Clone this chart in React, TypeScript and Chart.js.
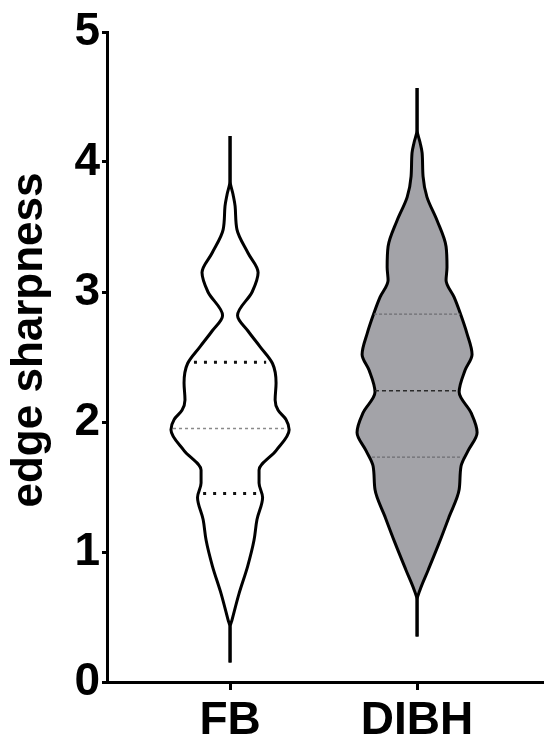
import React, { useEffect, useRef } from 'react';
import { Chart, registerables } from 'chart.js';

Chart.register(...registerables);

// ---- data ----
const categories = ['FB', 'DIBH'];
const yTickValues = [0, 1, 2, 3, 4, 5];
const yAxisTitle = 'edge sharpness';

// violin outline: value levels and half widths (in category units)
const fbLevels = [0.15, 0.42, 0.48, 0.68, 0.89, 1.09, 1.25, 1.42, 1.53, 1.63, 1.78, 1.94, 2.02, 2.09, 2.17, 2.3, 2.45, 2.58, 2.7, 2.82, 3.0, 3.15, 3.3, 3.48, 3.66, 3.75, 3.86, 4.2];
const fbHalfWidths = [0, 0, 0.011, 0.048, 0.094, 0.128, 0.144, 0.174, 0.155, 0.155, 0.246, 0.316, 0.299, 0.257, 0.241, 0.246, 0.227, 0.16, 0.096, 0.04, 0.118, 0.15, 0.096, 0.037, 0.027, 0.016, 0, 0];

const dibhLevels = [0.35, 0.63, 0.71, 0.86, 1.07, 1.27, 1.48, 1.66, 1.78, 1.92, 2.07, 2.23, 2.4, 2.52, 2.68, 2.84, 2.96, 3.09, 3.19, 3.35, 3.55, 3.73, 3.89, 4.07, 4.15, 4.25, 4.57];
const dibhHalfWidths = [0, 0, 0.016, 0.059, 0.118, 0.171, 0.225, 0.235, 0.273, 0.321, 0.289, 0.225, 0.257, 0.294, 0.267, 0.23, 0.198, 0.155, 0.16, 0.155, 0.107, 0.053, 0.032, 0.027, 0.016, 0, 0];

// quartiles: Q1, median, Q3
const fbQuartiles = [1.45, 1.95, 2.46];
const fbQuartileHalfWidths = [0.144, 0.305, 0.193];
const dibhQuartiles = [1.73, 2.24, 2.83];
const dibhQuartileHalfWidths = [0.241, 0.225, 0.23];

const FONT = "'Liberation Sans', Arial, Helvetica, sans-serif";

function side(center: number, levels: number[], hws: number[], sign: number) {
  return levels.map((y, i) => ({ x: center + sign * hws[i], y }));
}

// y-axis title drawn beside the y scale (slightly above the axis centre, as in the reference)
const yTitlePlugin = {
  id: 'yTitle',
  afterDraw(chart: any) {
    const { ctx } = chart;
    const ys = chart.scales.y;
    const cx = ys.left + 30;
    const cy = (ys.top + ys.bottom) / 2 - 17;
    ctx.save();
    ctx.translate(cx, cy);
    ctx.rotate(-Math.PI / 2);
    ctx.fillStyle = '#000';
    ctx.font = `bold 44px ${FONT}`;
    ctx.textAlign = 'center';
    ctx.textBaseline = 'middle';
    ctx.fillText(yAxisTitle, 0, 0);
    ctx.restore();
  },
};

export default function App() {
  const ref = useRef<HTMLCanvasElement>(null);

  useEffect(() => {
    const canvas = ref.current;
    if (!canvas) return;
    const datasets: any[] = [];

    const addViolin = (center: number, levels: number[], hws: number[], fillColor: string | null) => {
      const common = {
        borderColor: '#000',
        borderWidth: 3,
        pointRadius: 0,
        cubicInterpolationMode: 'monotone',
        order: 2,
      };
      datasets.push({ ...common, data: side(center, levels, hws, -1), fill: false });
      datasets.push({
        ...common,
        data: side(center, levels, hws, 1),
        fill: fillColor ? '-1' : false,
        backgroundColor: fillColor || 'transparent',
      });
    };

    const addQuartiles = (
      center: number,
      qs: number[],
      hws: number[],
      styles: { color: string; width: number; dash: number[] }[]
    ) => {
      qs.forEach((q, i) => {
        datasets.push({
          data: [
            { x: center - hws[i], y: q },
            { x: center + hws[i], y: q },
          ],
          borderColor: styles[i].color,
          borderWidth: styles[i].width,
          borderDash: styles[i].dash,
          pointRadius: 0,
          tension: 0,
          fill: false,
          order: 0,
        });
      });
    };

    addViolin(1, fbLevels, fbHalfWidths, null);
    addViolin(2, dibhLevels, dibhHalfWidths, '#a3a3a8');

    const fbQuartStyle = { color: '#111', width: 3, dash: [3, 7] };
    const fbMedStyle = { color: '#8a8a8a', width: 1.5, dash: [3, 3] };
    addQuartiles(1, fbQuartiles, fbQuartileHalfWidths, [fbQuartStyle, fbMedStyle, fbQuartStyle]);

    const dibhQuartStyle = { color: '#6e6e72', width: 1.2, dash: [3, 2] };
    const dibhMedStyle = { color: '#2a2a2a', width: 1.6, dash: [4, 3] };
    addQuartiles(2, dibhQuartiles, dibhQuartileHalfWidths, [dibhQuartStyle, dibhMedStyle, dibhQuartStyle]);

    const tickFont = { family: FONT, size: 46, weight: 'bold' as const };

    const chart = new Chart(canvas, {
      type: 'line',
      data: { datasets },
      plugins: [yTitlePlugin],
      options: {
        indexAxis: 'y',
        animation: false,
        responsive: false,
        events: [],
        layout: { padding: { top: 32, right: 8, left: 0, bottom: 0 } },
        plugins: {
          legend: { display: false },
          tooltip: { enabled: false },
          title: { display: false },
        },
        scales: {
          x: {
            type: 'linear',
            position: 'bottom',
            min: 0.342,
            max: 2.668,
            afterBuildTicks: (s: any) => {
              s.ticks = categories.map((_, i) => ({ value: i + 1 }));
            },
            afterFit: (s: any) => {
              s.height = 72;
            },
            grid: { drawOnChartArea: false, drawTicks: true, tickLength: 8, color: '#000', lineWidth: 3 },
            border: { display: true, color: '#000', width: 3 },
            ticks: {
              autoSkip: false,
              maxRotation: 0,
              minRotation: 0,
              padding: 4,
              color: '#000',
              font: tickFont,
              callback: (v: any) => categories[Math.round(Number(v)) - 1] ?? '',
            },
          },
          y: {
            type: 'linear',
            position: 'left',
            min: 0,
            max: 5,
            afterBuildTicks: (s: any) => {
              s.ticks = yTickValues.map((v) => ({ value: v }));
            },
            afterFit: (s: any) => {
              s.width = 107;
            },
            grid: { drawOnChartArea: false, drawTicks: true, tickLength: 5, color: '#000', lineWidth: 3 },
            border: { display: true, color: '#000', width: 3 },
            ticks: {
              padding: 2,
              color: '#000',
              font: tickFont,
            },
            title: { display: false },
          },
        },
      } as any,
    });

    return () => chart.destroy();
  }, []);

  return (
    <div style={{ position: 'absolute', left: 0, top: 0, width: 550, height: 754, background: '#fff' }}>
      <canvas ref={ref} width={550} height={754} style={{ display: 'block', width: 550, height: 754 }} />
    </div>
  );
}
